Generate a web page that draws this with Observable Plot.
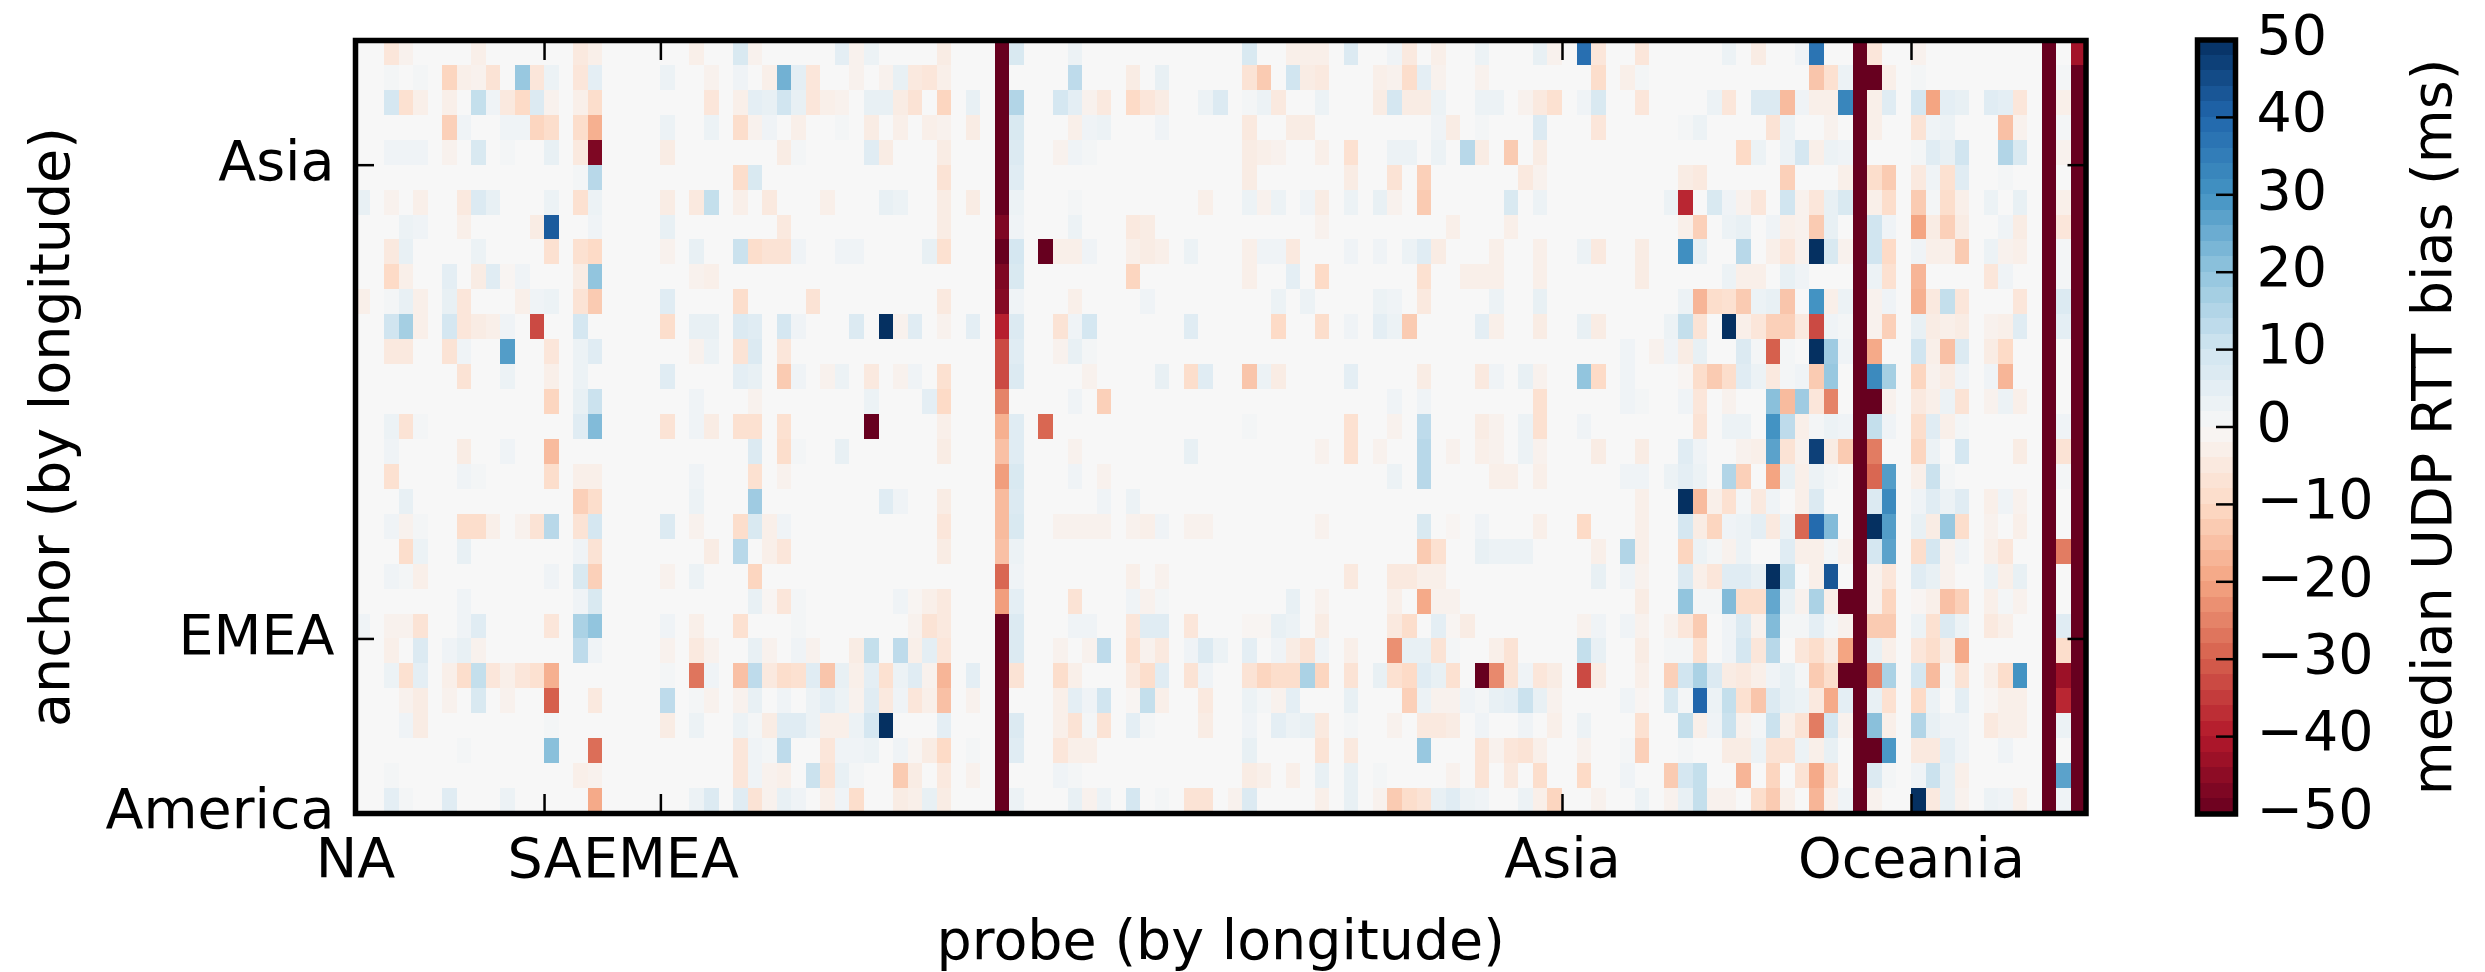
<!DOCTYPE html>
<html><head><meta charset="utf-8">
<script src="https://cdn.jsdelivr.net/npm/d3@7"></script>
<script src="https://cdn.jsdelivr.net/npm/@observablehq/plot@0.6"></script>
<style>html,body{margin:0;padding:0;background:#fff}#wrap{position:relative;width:2485px;height:972px;overflow:hidden}#wrap svg{position:absolute;top:0;background:transparent;max-width:none}</style>
</head><body><div id="wrap"></div>
<script>
// chart values: each row lists [column, bias, column, bias, ...]; unlisted cells read as 0
const nCols = 119, nRows = 31;
const row00=[2,-6,3,-2,8,-3,15,-5,16,-3,23,-3,26,8,27,-2,33,5,34,-2,35,3,40,-4,45,8,49,3,61,8,64,-3,65,-3,66,-3,68,7,71,2,72,-5,74,-3,77,3,81,4,82,-2,84,38,85,-6,88,-6,94,3,96,-4,99,2,100,37,104,-6,107,-2];
const row01=[2,1,4,1,6,-11,7,-3,8,-2,9,-7,11,19,12,-6,13,3,15,-6,16,5,21,3,24,-2,26,2,28,-3,29,24,30,5,31,-6,34,-2,36,-2,37,4,38,-5,39,-6,40,-3,49,13,53,-4,55,4,61,-7,62,-13,64,10,65,-4,66,-5,70,-3,71,-2,72,-9,73,5,74,-2,77,-2,85,-9,87,-3,88,1,100,-14,101,-8,102,3,104,-50,105,-3,107,1,117,1];
const row02=[2,9,3,-8,4,-3,6,-3,8,12,9,2,10,-5,11,-10,12,7,13,-2,15,-3,16,-9,24,-6,26,-3,27,5,28,4,29,10,30,4,31,-6,32,-3,33,-2,35,4,36,4,37,-4,38,-7,40,-11,42,4,45,15,48,9,49,5,50,-2,51,-5,53,-10,54,-6,55,-4,58,3,59,7,61,1,62,3,63,-5,66,3,70,-4,71,9,72,-4,73,-4,74,3,77,3,78,3,80,-2,81,-5,82,-8,84,2,85,8,88,-6,93,3,94,-6,96,7,97,7,98,-16,99,2,100,-3,101,-3,102,33,104,-3,105,6,107,9,108,-20,109,5,110,4,112,6,113,5,114,-6,117,-3];
const row03=[6,-12,7,2,10,2,11,2,12,-11,13,-9,15,-9,16,-18,21,3,24,3,26,-9,27,-2,28,2,30,-3,33,1,35,-4,37,-3,39,-3,40,-2,42,-4,45,8,49,-3,50,2,51,3,55,2,61,-5,64,-4,65,-4,74,2,75,-4,77,1,81,7,85,-6,91,1,92,3,97,-7,98,3,101,-2,104,-3,107,-7,108,2,109,3,113,-15,114,-2,117,1];
const row04=[2,2,3,2,4,2,6,-2,8,8,10,1,13,4,15,-5,16,-47,21,-4,29,-4,30,1,35,6,36,-4,40,-4,45,7,48,-2,49,2,50,1,61,-4,62,-3,63,-2,66,-3,68,-8,71,3,72,3,74,3,76,14,77,-4,79,-13,81,-4,95,-10,96,3,98,3,99,9,100,-3,101,3,102,2,107,1,108,6,109,4,110,10,113,15,114,8,117,-2];
const row05=[15,1,16,14,26,-9,27,8,40,-7,45,6,61,-4,68,-4,71,-7,73,-12,80,-5,81,-2,91,-4,92,-5,98,-12,102,-3,104,-9,105,-13,107,-5,108,2,109,-8,110,6,113,1];
const row06=[0,4,2,-2,4,-3,7,-5,8,7,9,4,13,3,15,-8,16,3,21,-4,23,-5,24,12,26,-3,28,-5,32,-3,36,4,37,3,40,-4,42,-4,45,3,49,1,58,-3,61,3,62,-2,63,3,65,2,66,-4,68,3,70,4,71,-2,73,-13,79,8,81,3,90,3,91,-38,93,8,94,2,95,-2,96,-6,98,10,99,-2,100,-6,101,4,102,8,104,-3,105,-9,107,-13,108,1,109,-9,110,-3,112,3,114,4,117,-3];
const row07=[3,3,4,2,7,-3,12,-4,13,42,16,2,21,4,29,-5,40,-4,45,2,49,3,53,-5,54,-4,66,-2,75,-3,79,-3,91,-3,92,-12,94,3,95,4,97,2,98,-3,99,-2,100,-13,101,4,104,10,105,2,107,-20,108,-4,109,-12,110,-4,113,2,114,-4,117,-6];
const row08=[2,-5,3,4,8,3,13,-8,15,-8,16,-10,21,-2,23,4,26,11,27,-9,28,-7,29,-7,30,2,33,2,34,2,39,4,40,-8,45,9,47,-50,48,-3,49,-3,50,2,53,-3,54,-4,55,-3,57,3,61,-3,62,2,63,2,64,-5,68,2,70,2,72,3,73,6,74,-4,78,-3,81,-3,84,3,85,-5,88,-4,91,31,92,4,95,14,97,-3,98,-6,99,-2,100,50,101,8,102,-2,104,10,105,-10,107,2,108,-3,109,-3,110,-13,112,3,113,-2,114,-3,117,1];
const row09=[2,-10,3,-3,6,5,8,-4,9,6,10,-1,11,2,15,-4,16,20,23,-2,24,-3,45,8,53,-11,61,-3,64,5,66,-10,73,-8,76,-3,77,-3,78,-3,81,-3,88,-4,94,3,95,-3,96,-3,98,4,99,2,104,3,105,-8,107,-17,112,-6,113,2,117,1];
const row10=[0,-3,2,1,3,4,4,-3,6,4,7,-6,11,-3,12,2,13,3,15,-7,16,-13,21,6,26,-9,31,-7,40,-5,45,2,49,-3,54,2,63,3,65,3,70,3,71,2,73,-5,78,3,81,4,91,3,92,-17,93,-9,94,-8,95,-13,96,3,97,4,98,-14,100,30,101,-3,102,3,104,-2,105,2,107,-18,108,-5,109,12,110,-6,114,-6,117,7];
const row11=[2,10,3,17,4,-3,6,9,7,-6,8,-4,9,-3,10,2,12,-33,15,9,21,-9,23,4,24,4,26,7,27,6,29,9,30,2,34,7,36,50,37,-2,38,6,40,-2,42,5,45,7,48,-7,49,2,50,9,57,6,63,-10,66,-9,68,2,70,5,71,3,72,-13,77,5,78,-3,81,-4,84,4,85,-4,90,3,91,12,92,-7,94,50,95,-3,96,-6,97,-12,98,-12,99,-5,100,-33,101,2,102,1,104,-2,105,-12,107,4,108,-4,109,-3,110,-4,112,-2,113,-3,114,6,117,5];
const row12=[2,-5,3,-5,6,-7,7,2,10,28,13,-6,15,3,16,6,23,-2,24,3,26,-7,27,7,29,-6,45,6,48,-2,49,4,50,1,87,2,89,-2,90,2,91,-4,92,4,95,7,96,1,97,-30,98,1,100,50,101,18,102,2,104,-19,107,10,108,-3,109,-15,110,7,112,-4,113,-10];
const row13=[7,-7,10,3,13,-3,15,3,21,6,26,5,27,4,29,-13,30,2,32,-2,33,3,35,-5,37,-2,38,2,40,-8,45,7,50,-2,55,4,57,-9,58,6,61,-14,62,3,63,-4,68,5,73,-4,77,-5,78,2,80,4,81,-2,84,20,85,-10,87,2,91,-1,92,-9,93,-13,94,-9,95,6,96,3,97,-5,98,1,99,2,100,-13,101,19,104,32,105,17,107,-11,108,-2,109,-4,110,2,112,2,113,-17];
const row14=[13,-11,15,4,16,11,23,2,27,-2,35,3,39,5,40,-10,49,2,51,-12,71,2,73,2,81,-8,87,2,88,1,91,2,92,-6,94,-2,97,21,98,-16,99,18,100,-6,101,-25,104,-50,105,-2,107,-5,108,-3,109,3,110,-7,112,-2,113,3,114,-3];
const row15=[2,3,3,-7,4,1,15,6,16,22,21,-7,23,2,24,-4,26,-8,27,-8,29,-8,35,-50,40,-3,45,6,47,-29,61,1,68,-8,71,-2,73,13,77,-4,78,-2,80,3,81,-8,84,2,92,-7,94,3,95,3,97,30,98,13,99,-3,100,1,101,3,102,2,104,12,105,2,107,-9,108,6,109,-3,110,1,117,2];
const row16=[2,2,7,-4,10,2,13,-16,27,7,29,-9,30,1,33,4,40,-4,45,6,49,-2,57,4,66,-2,68,-8,70,-2,73,14,75,-2,77,-3,78,-2,80,3,81,-2,85,-4,88,-4,91,6,92,2,95,-2,96,-3,97,27,98,-7,99,-2,100,47,101,-4,102,-13,104,-26,107,-11,108,3,110,9,114,-4,117,-7];
const row17=[2,-8,7,2,8,1,13,-9,15,-3,16,-3,23,2,27,-8,29,-2,45,8,49,2,51,-2,71,3,73,14,78,-3,79,-3,81,-3,87,2,88,2,90,3,91,5,92,3,94,15,95,-12,97,-20,98,4,99,-3,100,3,101,1,104,-29,105,28,107,-3,108,11,109,1,117,1];
const row18=[3,4,15,-12,16,-9,23,3,27,18,36,6,37,2,40,-4,45,7,51,2,53,3,88,-3,91,50,92,-16,93,-3,94,-8,95,1,96,-5,97,2,99,-3,100,7,104,7,105,32,107,2,108,6,109,3,110,6,112,-3,113,2,114,-2];
const row19=[2,2,3,-2,4,1,7,-9,8,-9,9,-3,11,-2,12,-7,13,14,15,-7,16,9,21,7,23,-2,26,-9,27,8,28,-3,29,2,40,-6,45,8,48,-2,49,-2,50,-2,51,-2,53,-2,54,-3,55,2,57,-2,58,-2,66,-2,73,8,75,-1,77,2,81,-3,84,-10,88,-3,91,9,92,-4,93,-11,94,2,95,3,96,5,97,-5,98,3,99,-29,100,39,101,22,104,50,105,28,107,4,108,-4,109,19,110,-9,112,-2,114,-3];
const row20=[3,-9,4,3,7,4,15,2,16,-7,24,-4,26,14,28,-3,29,-6,40,-4,45,3,73,-13,74,-8,77,4,78,3,79,3,80,3,85,-3,87,15,88,-3,91,-11,92,3,93,1,94,-2,95,3,98,6,99,-3,100,-3,101,1,102,-2,104,9,105,27,107,-9,108,9,109,-2,110,2,112,-3,113,-6,117,-26];
const row21=[2,2,3,1,4,-3,13,2,15,8,16,-12,21,-2,23,3,27,-11,45,2,53,-3,55,-2,68,-5,71,-5,72,-5,73,-3,74,-3,85,4,87,2,88,-2,91,7,92,-3,93,-6,94,6,95,6,96,4,97,50,98,12,100,-3,101,43,104,-2,105,-6,107,6,108,4,109,-2,112,3,113,-3,114,4];
const row22=[7,2,15,2,16,8,27,4,28,-1,29,-6,30,1,37,2,38,-1,39,-3,40,-5,45,5,49,-7,53,2,54,-2,55,1,64,4,66,-2,71,-3,73,-19,74,-2,75,-2,88,-4,91,20,92,1,93,1,94,22,95,-9,96,-9,97,26,98,4,99,-2,100,16,101,-3,102,-50,104,-2,105,-11,107,-1,108,-3,109,-15,110,-12,112,-3,113,1,114,-2];
const row23=[0,2,2,-2,3,-2,4,-7,7,2,8,6,13,-6,15,16,16,20,21,2,23,-3,26,-8,30,1,38,-2,39,-7,40,-5,45,7,49,2,50,2,53,-6,54,6,55,6,57,-6,61,-1,62,-1,63,4,64,3,66,-4,71,-5,72,-9,74,5,75,-1,76,-4,84,-2,85,2,87,2,88,-2,90,-2,91,-6,92,-13,94,2,95,7,96,-2,97,22,98,1,99,1,100,5,101,1,102,-2,104,-13,105,-13,107,3,108,-8,109,7,110,3,112,-5,113,-3,117,6];
const row24=[2,-3,4,7,6,2,7,4,8,-2,15,13,16,2,21,-2,23,-5,24,-2,27,4,28,-2,30,2,31,-2,34,-4,35,12,37,13,38,-3,39,5,40,-6,45,7,48,-2,50,-2,51,13,53,-8,54,-2,55,-5,57,2,58,7,59,3,61,5,63,2,64,-4,65,-7,66,2,68,-3,71,-23,72,4,73,4,74,-7,75,1,78,-3,79,-7,84,12,85,4,88,-4,90,1,91,1,92,-8,94,2,95,9,96,-6,97,14,99,-6,100,-9,101,-4,102,-20,104,4,105,-3,107,-6,108,-9,109,-4,110,-19,117,-9];
const row25=[2,3,3,-8,4,5,6,-3,7,-9,8,12,9,-6,10,-3,11,-6,12,-8,13,-18,21,1,23,-27,24,2,26,-15,27,13,28,-5,29,-9,30,-8,31,6,32,-14,33,4,34,-3,35,5,36,-8,37,3,38,6,39,-2,40,-17,42,5,45,-7,48,-9,49,-3,53,-5,54,-9,55,6,57,-7,58,2,61,-7,62,-11,63,-9,64,-9,65,16,66,-11,68,-7,70,4,71,-8,72,-10,73,6,74,4,75,-8,77,-50,78,-24,79,-7,80,2,81,-6,82,-4,84,-33,85,-4,88,-3,90,-12,91,10,92,16,93,7,94,-4,95,-5,96,-3,97,2,98,4,99,1,100,-13,101,-9,102,-50,104,-25,105,16,107,9,108,-16,109,1,110,-7,112,-3,113,-9,114,30,117,-43];
const row26=[3,-2,4,-4,6,-2,8,8,10,-2,13,-30,16,-5,21,13,23,1,24,-2,26,-2,27,4,29,2,31,3,32,5,33,3,34,-2,35,6,36,-5,37,2,38,-6,39,-3,40,-15,42,-2,48,-3,49,5,50,2,51,10,53,-1,54,12,55,-3,58,-5,61,3,62,1,63,-2,64,5,68,4,72,-12,73,3,74,-2,75,-2,76,2,77,1,78,4,79,5,80,11,81,4,82,-2,87,2,88,-1,90,8,91,1,92,40,93,3,94,12,95,-8,96,-14,97,7,98,4,99,3,100,-5,101,-19,102,5,104,4,105,-8,107,-10,108,3,110,5,112,-1,113,-3,114,-3,117,-38];
const row27=[3,2,4,-4,13,1,21,-4,23,3,26,3,27,1,28,-4,29,6,30,6,31,3,32,-3,33,-3,34,3,35,9,36,50,40,5,45,7,48,-3,49,-7,50,1,51,-7,53,5,54,1,58,-4,61,2,63,5,64,3,65,4,66,-5,68,1,71,-2,73,-5,74,-5,75,-4,77,2,80,2,82,-3,84,3,88,-8,91,12,92,-3,93,2,94,11,95,-2,96,1,97,11,98,-3,99,-7,100,-26,101,9,102,-2,104,21,105,-3,107,15,108,4,109,2,110,2,112,-5,113,-3,114,-3,117,3];
const row28=[7,1,13,21,16,-28,26,-6,27,2,28,1,29,13,32,-6,33,2,34,2,35,3,37,2,38,-1,39,-4,40,-10,42,1,45,6,48,-6,49,-3,50,-3,61,4,66,-7,68,-5,73,19,77,-7,78,-2,79,-6,80,-7,81,-3,84,-2,87,1,88,-12,91,1,94,-4,95,-4,96,3,97,-7,98,-7,99,3,100,-3,101,4,104,-50,105,29,107,-5,108,-5,109,5,110,2,113,2];
const row29=[2,1,15,-3,16,-2,26,-6,27,2,28,-2,29,-3,31,11,32,-7,33,4,34,1,37,-13,38,-4,40,-5,42,-2,48,2,49,1,61,-4,62,-3,64,-3,66,4,68,4,70,1,75,-2,77,-7,79,-5,81,-9,84,-10,87,2,90,-13,91,9,92,12,95,-17,97,-11,99,-7,100,-19,101,-7,104,7,105,1,107,2,108,11,109,4,110,-3,117,27];
const row30=[2,5,3,1,6,6,10,3,16,-19,23,3,24,7,26,6,27,-7,28,-2,29,4,30,2,32,-3,33,2,34,-9,37,-4,38,-3,39,4,40,-4,45,3,49,4,50,-2,51,3,53,9,55,1,57,-7,58,-7,60,-2,61,7,66,-3,68,4,70,-2,71,-13,72,-9,73,-7,74,4,75,6,76,3,77,2,80,3,81,-3,82,-11,85,-2,88,3,90,-2,91,4,92,12,93,-2,94,-2,96,-9,97,-13,98,-3,100,-17,101,-3,102,2,104,-2,107,50,108,-5,109,4,110,-2,112,3,113,2,114,-3,117,2];
// whole-column reads, top row first
const col044=[-50,-50,-50,-50,-50,-50,-50,-47,-50,-47,-46,-39,-33,-33,-25,-18,-15,-21,-16,-16,-15,-29,-21,-50,-50,-50,-50,-50,-50,-50,-50];
const col103=Array(31).fill(-50);
const col116=Array(31).fill(-50);
const col118=[-42,-50,-50,-50,-50,-50,-50,-50,-50,-50,-50,-50,-50,-50,-50,-50,-50,-50,-50,-50,-50,-50,-50,-50,-50,-50,-50,-50,-50,-50,-50];
const rowsSparse=[row00,row01,row02,row03,row04,row05,row06,row07,row08,row09,row10,row11,row12,row13,row14,row15,row16,row17,row18,row19,row20,row21,row22,row23,row24,row25,row26,row27,row28,row29,row30];
const fullCols=[[44,col044],[103,col103],[116,col116],[118,col118]];
const xTicks=[0,13,21,83,107], xLabels=["NA","SA","EMEA","Asia","Oceania"];
const yTicks=[0,7,26], yLabels=["America","EMEA","Asia"];
const barTicks=[-50,-40,-30,-20,-10,0,10,20,30,40,50];
const rdbuStops=["#67001f","#b2182b","#d6604d","#f4a582","#fddbc7","#f7f7f7","#d1e5f0","#92c5de","#4393c3","#2166ac","#053061"];
const FONT='"DejaVu Sans"', FS=55.5;

const cells=[];
rowsSparse.forEach((sparse,r)=>{
  const vals=new Array(nCols).fill(0);
  for(let i=0;i<sparse.length;i+=2) vals[sparse[i]]=sparse[i+1];
  fullCols.forEach(([c,a])=>{vals[c]=a[r];});
  vals.forEach((v,c)=>cells.push({c,r:nRows-1-r,v}));
});
const colorOpt={type:"linear",domain:barTicks,range:rdbuStops,clamp:true};
const H=972, T=40, B=813;

const main=Plot.plot({
  width:2170,height:H,marginLeft:355,marginRight:2170-2085.5,marginTop:T,marginBottom:H-B,
  style:{fontFamily:FONT,background:"transparent"},
  x:{type:"linear",domain:[0,nCols]},y:{type:"linear",domain:[0,nRows]},color:colorOpt,
  marks:[
    Plot.rect(cells,{x1:"c",x2:d=>d.c+1,y1:"r",y2:d=>d.r+1,fill:"v",shapeRendering:"crispEdges"}),
    Plot.axisX({anchor:"bottom",ticks:xTicks,tickFormat:d=>xLabels[xTicks.indexOf(d)],tickSize:-19,strokeWidth:2.5,stroke:"#000",tickPadding:43,fontSize:FS,fill:"#000",label:null}),
    Plot.axisX({anchor:"top",ticks:xTicks,tickFormat:()=>"",tickSize:-19,strokeWidth:2.5,stroke:"#000",label:null}),
    Plot.axisY({anchor:"left",ticks:yTicks,tickFormat:()=>"",tickSize:-19,strokeWidth:2.5,stroke:"#000",label:null}),
    Plot.axisY({anchor:"left",ticks:yTicks,tickFormat:d=>yLabels[yTicks.indexOf(d)],tickSize:0,tickPadding:21,dy:-3,fontSize:FS,fill:"#000",label:null}),
    Plot.axisY({anchor:"right",ticks:yTicks,tickFormat:()=>"",tickSize:-19,strokeWidth:2.5,stroke:"#000",label:null}),
    Plot.frame({stroke:"#000",strokeWidth:5.5}),
    Plot.text(["probe (by longitude)"],{frameAnchor:"bottom",dy:128,text:d=>d,fontSize:FS,fill:"#000",lineAnchor:"middle"}),
    Plot.text(["anchor (by longitude)"],{frameAnchor:"left",dx:-304,text:d=>d,rotate:-90,fontSize:FS,fill:"#000",textAnchor:"middle",lineAnchor:"middle"})
  ]
});
main.style.left="0px";

const barVals=d3.range(-50,50,2);
const bar=Plot.plot({
  width:325,height:H,marginLeft:37,marginRight:325-75,marginTop:39.5,marginBottom:H-813.5,
  style:{fontFamily:FONT,background:"transparent"},
  x:{type:"linear",domain:[0,1],axis:null},y:{type:"linear",domain:[-50,50]},color:colorOpt,
  marks:[
    Plot.rect(barVals,{x1:()=>0,x2:()=>1,y1:d=>d,y2:d=>d+2,fill:d=>d+1,shapeRendering:"crispEdges"}),
    Plot.axisY({anchor:"right",ticks:barTicks,tickFormat:()=>"",tickSize:-20,strokeWidth:2.5,stroke:"#000",label:null}),
    Plot.axisY({anchor:"right",ticks:barTicks,tickSize:0,tickPadding:21,dy:-4,fontSize:FS,fill:"#000",label:null}),
    Plot.frame({stroke:"#000",strokeWidth:5.5}),
    Plot.text(["median UDP RTT bias (ms)"],{frameAnchor:"right",dx:198,text:d=>d,rotate:-90,fontSize:FS,fill:"#000",textAnchor:"middle",lineAnchor:"middle"})
  ]
});
bar.style.left="2160px";
const wrap=document.getElementById("wrap");
wrap.appendChild(main);wrap.appendChild(bar);
</script></body></html>
